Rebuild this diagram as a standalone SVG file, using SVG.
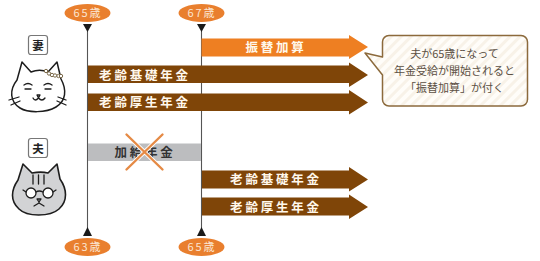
<svg xmlns="http://www.w3.org/2000/svg" width="540" height="261" viewBox="0 0 540 261">
  <style>
    text { font-family: "Noto Sans CJK JP", "Noto Sans", sans-serif; text-anchor: middle; }
    .age { fill: #e97f2e; }
    .ageText { fill: #fbe6d2; font-size: 11px; letter-spacing: 2px; }
    .axis { stroke: #555; stroke-width: 1.1; fill: none; }
    .tick { fill: #1a1a1a; }
    .bar { font-size: 12.5px; font-weight: 700; letter-spacing: 2.8px; fill: #fff8ec; }
    .brown { fill: #7f4508; }
    .tag { fill: #fff; stroke: #777; stroke-width: 1.2; }
    .tagText { font-size: 11.5px; font-weight: 700; fill: #222; }
    .note { font-size: 11px; fill: #5c5044; }
    .ink { fill: none; stroke: #1d1d1d; stroke-width: 1.3; stroke-linecap: round; stroke-linejoin: round; }
  </style>
  <defs>
    <pattern id="stripes" width="7" height="7" patternUnits="userSpaceOnUse" patternTransform="rotate(45)">
      <rect width="7" height="7" fill="#fffdf9"/>
      <rect width="3" height="7" fill="#f8f2e8"/>
    </pattern>
  </defs>

  <g id="connectors">
    <path class="axis" d="M87.5 28V232"/>
    <path class="axis" d="M201.5 28V232"/>
  </g>

  <g id="age-65-top">
    <ellipse class="age" cx="87.5" cy="13" rx="23" ry="9"/>
    <text class="ageText" x="88" y="17">65歳</text>
    <path class="tick" d="M83 24H92L87.5 32Z"/>
  </g>
  <g id="age-67-top">
    <ellipse class="age" cx="201.5" cy="13" rx="23" ry="9"/>
    <text class="ageText" x="202" y="17">67歳</text>
    <path class="tick" d="M197 24H206L201.5 32Z"/>
  </g>
  <g id="age-63-bottom">
    <ellipse class="age" cx="87.5" cy="247" rx="23" ry="9"/>
    <text class="ageText" x="88" y="251">63歳</text>
    <path class="tick" d="M83 236H92L87.5 227Z"/>
  </g>
  <g id="age-65-bottom">
    <ellipse class="age" cx="201.5" cy="247" rx="23" ry="9"/>
    <text class="ageText" x="202" y="251">65歳</text>
    <path class="tick" d="M197 236H206L201.5 227Z"/>
  </g>

  <g id="furikae-kasan">
    <path fill="#ee7f22" d="M201.5 38.5H349V35L368 47 349 59V56.5H201.5Z"/>
    <text class="bar" x="276" y="52">振替加算</text>
  </g>
  <g id="wife-kiso">
    <path class="brown" d="M88 65.5H349V62.5L368 75 349 87V83H88Z"/>
    <text class="bar" x="145" y="79.5">老齢基礎年金</text>
  </g>
  <g id="wife-kosei">
    <path class="brown" d="M88 93.5H349V90L368 102.500 349 114.500V111H88Z"/>
    <text class="bar" x="145" y="107">老齢厚生年金</text>
  </g>
  <g id="kakyu-nenkin">
    <rect x="88" y="143.500" width="113" height="17.500" fill="#bcbdbf"/>
    <text class="bar" x="145" y="157" style="fill:#333">加給年金</text>
    <path d="M126.500 134.500 162.500 169.500M162.500 134.500 126.500 169.500" fill="none" stroke="#fff" stroke-width="4"/>
    <path d="M126.500 134.500 162.500 169.500M162.500 134.500 126.500 169.500" fill="none" stroke="#e58a45" stroke-width="2.400" stroke-linecap="round"/>
  </g>
  <g id="husband-kiso">
    <path class="brown" d="M202 170.500H349V167L368 179.500 349 191.500V188.500H202Z"/>
    <text class="bar" x="276" y="184">老齢基礎年金</text>
  </g>
  <g id="husband-kosei">
    <path class="brown" d="M202 197.500H349V194.500L368 207 349 219V215.500H202Z"/>
    <text class="bar" x="276" y="211.500">老齢厚生年金</text>
  </g>

  <g id="callout">
    <path d="M389 35.500H521A6.500 6.500 0 0 1 527.500 42V99.500A6.500 6.500 0 0 1 521 106H389A6.500 6.500 0 0 1 382.500 99.500V75L365 53 382.500 57V42A6.500 6.500 0 0 1 389 35.500Z" fill="url(#stripes)" stroke="#8c6a3c" stroke-width="1.500" stroke-linejoin="round"/>
    <text class="note" x="454.500" y="58">夫が65歳になって</text>
    <text class="note" x="454.500" y="75">年金受給が開始されると</text>
    <text class="note" x="454.500" y="92">「振替加算」が付く</text>
  </g>

  <g id="wife">
    <rect class="tag" x="28.500" y="35.500" width="19" height="19" rx="2.500"/>
    <text class="tagText" x="38" y="49.500">妻</text>
    <path class="ink" fill="#fff" d="M17 80 22 62 31 72C36 70 43 70 48 72L57 62 61 79C67 90 66 101 56 107 46 113 28 113 20 108 10 102 9 90 17 80Z" style="stroke-width:1.500"/>
    <path class="ink" d="M24 85Q28 82 32 85M44 85Q48 82 52 85"/>
    <path class="ink" d="M25 89H31M45 89H51"/>
    <path class="ink" d="M33 98Q35 102 38.500 98Q42 102 45 98M37 95H40L38.500 98Z"/>
    <path class="ink" d="M9 100 19 97M11 105 20 101M58 97 66 100M57 101 66 105"/>
    <g fill="#fff" stroke="#7b6a4a" stroke-width="1">
      <circle cx="46" cy="71" r="1.700"/><circle cx="49" cy="73.500" r="1.700"/><circle cx="52" cy="75" r="1.700"/><circle cx="55" cy="75.500" r="1.700"/><circle cx="58.500" cy="76" r="1.700"/><circle cx="61" cy="76" r="1.700"/>
    </g>
  </g>

  <g id="husband">
    <rect class="tag" x="28.500" y="138.500" width="19" height="19" rx="2.500"/>
    <text class="tagText" x="38" y="152.500">夫</text>
    <path class="ink" fill="#d2d3d5" d="M18 180 23 164 32 173C37 172 44 172 48 173L57 164 60 179C67 189 68 201 59 209 50 217 27 217 19 209 10 201 11 190 18 180Z" style="fill:#d2d3d5;stroke-width:1.600"/>
    <path class="ink" d="M33 175V184M38.500 175V184M44 175V184"/>
    <circle class="ink" cx="31" cy="193" r="5" style="fill:#fff"/>
    <circle class="ink" cx="48" cy="193" r="5" style="fill:#fff"/>
    <path class="ink" d="M36 192Q39 190 43 192M26 192 23 190M53 192 56 190"/>
    <path class="ink" d="M37 199H41L39 202ZM39 202V203M34 206 39 203 44 206"/>
  </g>
</svg>
